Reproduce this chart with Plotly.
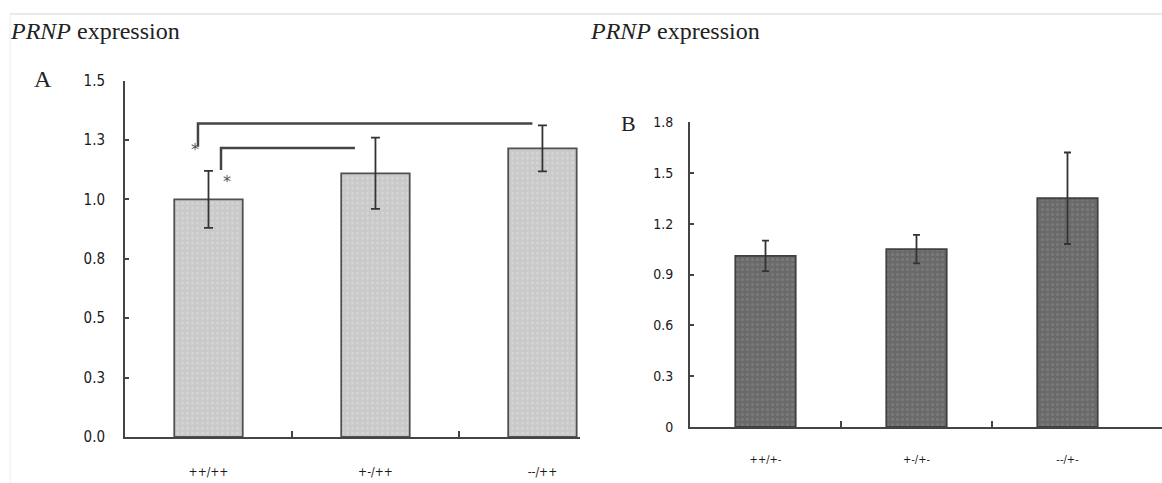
import plotly.graph_objects as go

# ---- data ----
cats_a = ["++/++", "+-/++", "--/++"]
vals_a = [1.00, 1.11, 1.215]
err_a = [0.12, 0.15, 0.097]
ytick_vals_a = [0, 0.25, 0.5, 0.75, 1.0, 1.25, 1.5]
ytick_text_a = ["0.0", "0.3", "0.5", "0.8", "1.0", "1.3", "1.5"]

cats_b = ["++/+-", "+-/+-", "--/+-"]
vals_b = [1.01, 1.05, 1.35]
err_b = [0.09, 0.084, 0.27]
ytick_vals_b = [0, 0.3, 0.6, 0.9, 1.2, 1.5, 1.8]
ytick_text_b = ["0", "0.3", "0.6", "0.9", "1.2", "1.5", "1.8"]

# significance brackets in panel A (x in category units, y in data units)
bracket_long = dict(x0=-0.063, x1=1.94, y_top=1.32, y_drop=1.222)
bracket_short = dict(x0=0.075, x1=0.877, y_top=1.217, y_drop=1.124)
stars = [(-0.08, 1.21), (0.11, 1.075)]

tick_font = dict(family="DejaVu Sans Condensed", size=15, color="#1a1a1a")
serif = "Liberation Serif"

fig = go.Figure()

fig.add_trace(go.Bar(
    x=list(range(len(cats_a))), y=vals_a, width=0.41,
    marker=dict(color="#c9c9c9", line=dict(color="#505050", width=1.8),
                pattern=dict(shape=".", fgcolor="#e2e2e2", size=5, solidity=0.25)),
    error_y=dict(type="data", array=err_a, color="#333", thickness=1.8, width=4.5),
    xaxis="x", yaxis="y", showlegend=False))

fig.add_trace(go.Bar(
    x=list(range(len(cats_b))), y=vals_b, width=0.40,
    marker=dict(color="#6a6a6a", line=dict(color="#404040", width=1.8),
                pattern=dict(shape=".", fgcolor="#8a8a8a", size=5, solidity=0.3)),
    error_y=dict(type="data", array=err_b, color="#333", thickness=1.8, width=3.5),
    xaxis="x2", yaxis="y2", showlegend=False))

W, H = 1162, 483
common = dict(showgrid=False, zeroline=False, automargin=False,
              showline=True, linecolor="#444", linewidth=2)
fig.update_layout(
    width=W, height=H, margin=dict(l=0, r=0, t=0, b=0, pad=0),
    paper_bgcolor="white", plot_bgcolor="white",
    xaxis=dict(domain=[125 / W, 580 / W], range=[-0.5, 2.225],
               tickvals=[0, 1, 2], ticktext=cats_a, ticks="", tickfont=dict(tick_font, size=12),
               ticklabelstandoff=23,
               minor=dict(tickvals=[0.5, 1.5], ticks="inside", ticklen=6,
                          tickcolor="#444", tickwidth=2, showgrid=False), **common),
    yaxis=dict(domain=[(H - 437) / H, (H - 80.7) / H], range=[0, 1.5],
               tickvals=ytick_vals_a, ticktext=ytick_text_a, ticks="inside",
               ticklen=4, tickwidth=1.5, tickcolor="#444", tickfont=tick_font,
               ticklabelstandoff=15, **common),
    xaxis2=dict(domain=[690 / W, 1.0], range=[-0.5, 2.626], anchor="y2",
                tickvals=[0, 1, 2], ticktext=cats_b, ticks="", tickfont=dict(tick_font, size=11),
                ticklabelstandoff=21,
                minor=dict(tickvals=[0.5, 1.5], ticks="inside", ticklen=6,
                           tickcolor="#444", tickwidth=1.5, showgrid=False), **common),
    yaxis2=dict(domain=[(H - 427) / H, (H - 122) / H], range=[0, 1.8], anchor="x2",
                tickvals=ytick_vals_b, ticktext=ytick_text_b, ticks="inside",
                ticklen=4, tickwidth=1.5, tickcolor="#444", tickfont=dict(tick_font, size=14),
                ticklabelstandoff=12, **common),
)

shapes = []
for b in (bracket_long, bracket_short):
    shapes.append(dict(type="path", xref="x", yref="y",
                       path=f"M {b['x0']},{b['y_drop']} L {b['x0']},{b['y_top']} L {b['x1']},{b['y_top']}",
                       line=dict(color="#444", width=2.5)))
# faint frame lines of the source image
shapes.append(dict(type="line", xref="paper", yref="paper", x0=10 / W, x1=1, y0=(H - 14) / H, y1=(H - 14) / H,
                   line=dict(color="#e2e2e2", width=1.5)))
shapes.append(dict(type="line", xref="paper", yref="paper", x0=10 / W, x1=10 / W, y0=0, y1=(H - 14) / H,
                   line=dict(color="#eeeeee", width=1)))
fig.update_layout(shapes=shapes)

annos = []
for sx, sy in stars:
    annos.append(dict(x=sx, y=sy, xref="x", yref="y", text="*", showarrow=False,
                      font=dict(family="DejaVu Sans", size=16, color="#555")))
annos.append(dict(x=8 / W, y=(H - 31) / H, xref="paper", yref="paper", xanchor="left", yanchor="middle",
                  text="<i>PRNP</i> expression", showarrow=False,
                  font=dict(family=serif, size=24, color="#222")))
annos.append(dict(x=588 / W, y=(H - 31) / H, xref="paper", yref="paper", xanchor="left", yanchor="middle",
                  text="<i>PRNP</i> expression", showarrow=False,
                  font=dict(family=serif, size=24, color="#222")))
annos.append(dict(x=32 / W, y=(H - 79) / H, xref="paper", yref="paper", xanchor="left", yanchor="middle",
                  text="A", showarrow=False, font=dict(family=serif, size=24, color="#222")))
annos.append(dict(x=619 / W, y=(H - 124) / H, xref="paper", yref="paper", xanchor="left", yanchor="middle",
                  text="B", showarrow=False, font=dict(family=serif, size=22, color="#222")))
fig.update_layout(annotations=annos)

fig.write_html("out.html", config={"displayModeBar": False},
               post_script="document.body.style.margin='0';document.body.style.overflow='hidden';")
